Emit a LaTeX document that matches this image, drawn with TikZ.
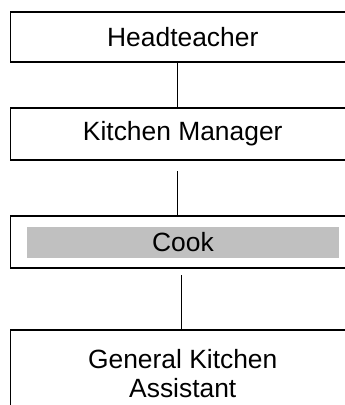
\documentclass[tikz,border=0pt]{standalone}
\usepackage{fontspec}
\setmainfont{Liberation Sans}
\begin{document}
\begin{tikzpicture}[x=1pt,y=-1pt,
  box/.style={draw=black,line width=1.3pt,fill=white,minimum width=344.5pt,inner sep=0pt,
    font=\fontsize{26.4}{29}\selectfont},
  bar/.style={fill=barGray,minimum width=312pt,minimum height=31pt,inner sep=0pt,
    font=\fontsize{26.4}{29}\selectfont},
  txt/.style={inner sep=0pt,align=center,font=\fontsize{26.4}{29}\selectfont},
  conn/.style={draw=black,line width=1pt}]
\definecolor{barGray}{RGB}{192,192,192}
\useasboundingbox (0,0) rectangle (345,405);
\clip (0,0) rectangle (345,405);
\fill[white] (0,0) rectangle (345,405);
\node[box,minimum height=50pt] (b1) at (182.75,37) {Headteacher};
\node[box,minimum height=52pt] (b2) at (182.75,134) {Kitchen Manager};
\node[box,minimum height=52pt] (b3) at (182.75,242) {};
\node[bar] (cook) at (183,242.5) {Cook};
\node[box,minimum height=100pt] (b4) at (182.75,380) {};
\node[txt] (gka) at (182.75,374) {General Kitchen\\Assistant};
\coordinate (x1) at (177,0);
\coordinate (x3) at (181.7,0);
\coordinate (s2) at (177,171);
\coordinate (s3) at (181.7,275);
\draw[conn] (b1.south -| x1) -- (b2.north -| x1);
\draw[conn] (s2) -- (b3.north -| s2);
\draw[conn] (s3) -- (b4.north -| s3);
\end{tikzpicture}
\end{document}
